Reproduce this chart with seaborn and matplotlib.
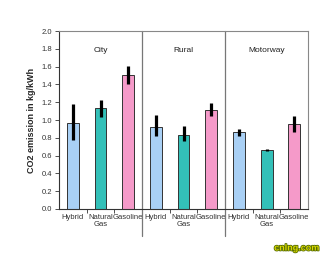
import matplotlib
matplotlib.use("Agg")
import matplotlib.pyplot as plt
import matplotlib.patheffects as pe
import seaborn as sns
import pandas as pd

regions = ["City", "Rural", "Motorway"]
fuels = ["Hybrid", "Natural Gas", "Gasoline"]
tick_labels = ["Hybrid", "Natural\nGas", "Gasoline"] * 3
values = [0.97, 1.14, 1.51, 0.92, 0.83, 1.11, 0.86, 0.66, 0.95]
err_low = [0.77, 1.03, 1.40, 0.82, 0.76, 1.04, 0.82, 0.65, 0.87]
err_high = [1.18, 1.23, 1.61, 1.06, 0.93, 1.19, 0.90, 0.67, 1.05]
colors = {"Hybrid": "#a9d0f5", "Natural Gas": "#33c0b8", "Gasoline": "#f59ac9"}

sns.set_style("ticks")
plt.rcParams['font.family'] = ['Liberation Sans', 'DejaVu Sans']

rows = []
for i, r in enumerate(regions):
    for j, f in enumerate(fuels):
        k = i * 3 + j
        rows.append({"key": f"{r} {f}", "fuel": f, "value": values[k]})
df = pd.DataFrame(rows)
order = list(df["key"])

fig = plt.figure(figsize=(3.26, 2.57), dpi=100)
ax = fig.add_axes([0.181, 0.187, 0.764, 0.692])
sns.barplot(data=df, x="key", y="value", hue="fuel", order=order,
            palette=colors, saturation=1, width=0.43, dodge=False,
            edgecolor="#333333", linewidth=0.7, legend=False, ax=ax)

xs = list(range(len(order)))
yerr = [[v - lo for v, lo in zip(values, err_low)],
        [hi - v for v, hi in zip(values, err_high)]]
ax.errorbar(xs, values, yerr=yerr, fmt="none", ecolor="black", elinewidth=2.3,
            capsize=0)

ax.set_xlim(-0.5, 8.5)
ax.set_ylim(0, 2.0)
ax.set_yticks([i * 0.2 for i in range(11)])
ax.set_yticklabels([f"{i*0.2:.1f}" for i in range(11)], fontsize=5.5, color="#333333")
ax.set_xticks(xs)
ax.set_xticklabels(tick_labels, fontsize=5.5, color="#333333", linespacing=0.95)
ax.tick_params(axis="x", length=0, pad=4)
ax.set_xticks([0.5, 1.5, 3.5, 4.5, 6.5, 7.5], minor=True)
ax.tick_params(axis="x", which="minor", length=3, direction="out", color="#333333")
ax.tick_params(axis="y", length=3, direction="out", width=0.6, color="#333333", pad=2)
ax.set_xlabel("")
ax.set_ylabel("CO2 emission in kg/kWh", fontsize=6.5, fontweight="bold", labelpad=4)

for s in ["top", "right"]:
    ax.spines[s].set_visible(True)
    ax.spines[s].set_color("#888888")
    ax.spines[s].set_linewidth(0.8)
ax.spines["left"].set_color("#333333")
ax.spines["bottom"].set_color("#333333")
ax.spines["left"].set_linewidth(0.8)
ax.spines["bottom"].set_linewidth(0.8)

for xd in [2.5, 5.5]:
    ax.axvline(xd, ymin=-0.15, ymax=1, color="#777777", lw=0.9, clip_on=False)

for i, r in enumerate(regions):
    ax.text(i * 3 + 1, 1.78, r, ha="center", va="center", fontsize=6, color="#222222")

fig.text(0.91, 0.035, "cnlng.com", ha="center", va="center", fontsize=6.5,
         fontweight="bold", color="#d8d800",
         path_effects=[pe.withStroke(linewidth=1.2, foreground="#556b00")])

fig.savefig("out.png", dpi=100, facecolor="white")
